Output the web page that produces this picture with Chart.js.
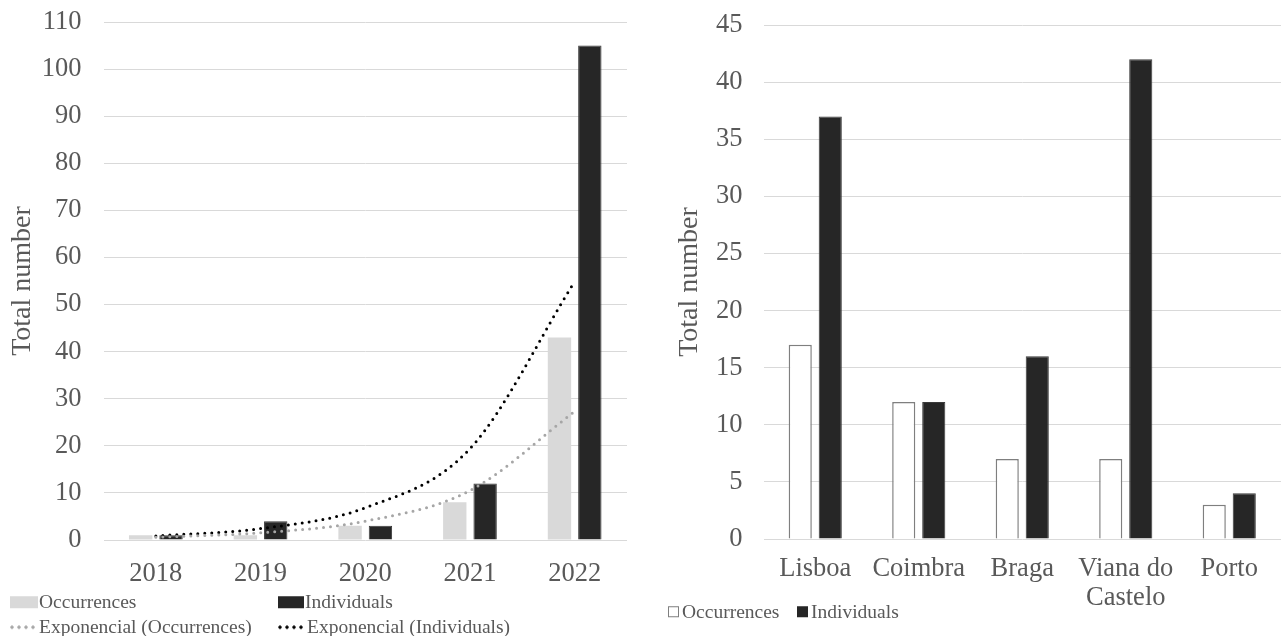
<!DOCTYPE html>
<html>
<head>
<meta charset="utf-8">
<script src="https://cdn.jsdelivr.net/npm/chart.js@4.4.1/dist/chart.umd.min.js"></script>
<style>
  html, body { margin: 0; padding: 0; background: #fff; }
  #wrap { position: relative; width: 1281px; height: 636px; overflow: hidden;
          font-family: "Liberation Serif", "Times New Roman", serif; }
  #yearChart { position: absolute; left: 0; top: 0; }
  #cityChart { position: absolute; left: 640px; top: 0; }
  .legend-item { position: absolute; display: flex; align-items: center; white-space: nowrap;
                 transform: translateY(-50%); font-size: 19.5px; color: #595959; line-height: 1; }
  .legend-item .mark { display: inline-block; flex: none; }
</style>
</head>
<body>
<div id="wrap">
  <canvas id="yearChart" width="640" height="636" style="width:640px;height:636px"></canvas>
  <canvas id="cityChart" width="641" height="636" style="width:641px;height:636px"></canvas>
  <div id="yearLegend"></div>
  <div id="cityLegend"></div>
</div>
<script>
// Records per year
const years = ['2018', '2019', '2020', '2021', '2022'];
const yearOccurrences = [1, 1, 3, 8, 43];
const yearIndividuals = [1, 4, 3, 12, 105];
// Exponential trend values at each year
const trendOccurrences = [0.59, 1.54, 4.0, 10.5, 27.3];
const trendIndividuals = [0.86, 2.42, 6.85, 19.4, 54.9];
const yearAxisMax = 110;
const yearAxisStep = 10;

// Records per district
const cities = ['Lisboa', 'Coimbra', 'Braga', ['Viana do', 'Castelo'], 'Porto'];
const cityOccurrences = [17, 12, 7, 7, 3];
const cityIndividuals = [37, 12, 16, 42, 4];
const cityAxisMax = 45;
const cityAxisStep = 5;

const seriesNames = ['Occurrences', 'Individuals'];
const trendNames = ['Exponencial (Occurrences)', 'Exponencial (Individuals)'];
const axisTitle = 'Total number';

const FONT = '"Liberation Serif", "Times New Roman", serif';
const TEXT = '#595959';
const GRID = '#d9d9d9';
const DARK = '#262626';
const LIGHT = '#d9d9d9';
const TREND_LIGHT = '#a6a6a6';
const TICK_SIZE = 26.5;
const TITLE_SIZE = 28;

Chart.defaults.font.family = FONT;
Chart.defaults.color = TEXT;

function yScale(max, step, width, titlePad, tickPad) {
  return {
    min: 0, max: max,
    ticks: { stepSize: step, padding: tickPad, color: TEXT, font: { size: TICK_SIZE } },
    grid: { color: GRID, lineWidth: 1, drawTicks: false },
    border: { display: false },
    title: { display: true, text: axisTitle, color: TEXT, font: { size: TITLE_SIZE },
             padding: { top: titlePad, bottom: 0 } },
    afterFit(scale) {
      // fixed axis width; the plot top/bottom come from the layout padding only
      scale.width = width;
      scale.paddingTop = 0;
      scale.paddingBottom = 0;
    }
  };
}
function xScale(height, tickPad) {
  return {
    grid: { display: false, drawTicks: false },
    border: { display: false },
    ticks: { padding: tickPad, color: TEXT, font: { size: TICK_SIZE, lineHeight: 1.08 }, maxRotation: 0, autoSkip: false },
    afterFit(scale) { scale.height = height; }
  };
}
const trendStyle = {
  type: 'line', borderWidth: 3, borderDash: [0, 7], borderCapStyle: 'round',
  pointRadius: 0, fill: false, cubicInterpolationMode: 'monotone', order: 0
};

new Chart(document.getElementById('yearChart'), {
  type: 'bar',
  data: {
    labels: years,
    datasets: [
      Object.assign({ label: trendNames[0], data: trendOccurrences, borderColor: TREND_LIGHT }, trendStyle),
      Object.assign({ label: trendNames[1], data: trendIndividuals, borderColor: '#000' }, trendStyle),
      { label: seriesNames[0], data: yearOccurrences, backgroundColor: LIGHT, borderWidth: 0,
        categoryPercentage: 0.58, barPercentage: 0.77, order: 1 },
      { label: seriesNames[1], data: yearIndividuals, backgroundColor: DARK, borderColor: '#3a3a3a', borderWidth: 1,
        categoryPercentage: 0.58, barPercentage: 0.77, order: 1 }
    ]
  },
  options: {
    responsive: false, animation: false,
    layout: { padding: { top: 22, right: 13, bottom: 0, left: 0 } },
    plugins: { legend: { display: false }, tooltip: { enabled: false } },
    scales: { x: xScale(96, 20), y: yScale(yearAxisMax, yearAxisStep, 103.5, 6, 22) }
  }
});

new Chart(document.getElementById('cityChart'), {
  type: 'bar',
  data: {
    labels: cities,
    datasets: [
      { label: seriesNames[0], data: cityOccurrences, backgroundColor: '#fff', borderColor: '#7f7f7f', borderWidth: 1.5,
        categoryPercentage: 0.58, barPercentage: 0.77 },
      { label: seriesNames[1], data: cityIndividuals, backgroundColor: DARK, borderColor: '#3a3a3a', borderWidth: 1,
        categoryPercentage: 0.58, barPercentage: 0.77 }
    ]
  },
  options: {
    responsive: false, animation: false,
    layout: { padding: { top: 25, right: 0, bottom: 0, left: 0 } },
    plugins: { legend: { display: false }, tooltip: { enabled: false } },
    scales: { x: xScale(97, 16), y: yScale(cityAxisMax, cityAxisStep, 123.5, 33, 21) }
  }
});

// Legends
function addLegend(parentId, items) {
  const parent = document.getElementById(parentId);
  items.forEach(it => {
    const el = document.createElement('div');
    el.className = 'legend-item';
    el.style.left = it.x + 'px';
    el.style.top = it.y + 'px';
    const mark = document.createElement('span');
    mark.className = 'mark';
    if (it.kind === 'box') {
      mark.style.width = it.w + 'px';
      mark.style.height = it.h + 'px';
      mark.style.background = it.fill;
      mark.style.boxSizing = 'border-box';
      if (it.stroke) mark.style.border = '1px solid ' + it.stroke;
    } else {
      mark.style.width = '28px';
      mark.style.height = '4px';
      mark.style.background = 'radial-gradient(circle at 2px 2px, ' + it.fill + ' 1.4px, transparent 1.9px) 0 0 / 7px 4px repeat-x';
    }
    mark.style.marginRight = it.gap + 'px';
    el.appendChild(mark);
    const txt = document.createElement('span');
    txt.textContent = it.text;
    el.appendChild(txt);
    parent.appendChild(el);
  });
}
addLegend('yearLegend', [
  { x: 10, y: 602, kind: 'box', w: 28, h: 12, fill: LIGHT, gap: 1, text: seriesNames[0] },
  { x: 278, y: 602, kind: 'box', w: 26, h: 12, fill: DARK, gap: 1, text: seriesNames[1] },
  { x: 10, y: 627, kind: 'dots', fill: TREND_LIGHT, gap: 1, text: trendNames[0] },
  { x: 278, y: 627, kind: 'dots', fill: '#000', gap: 1, text: trendNames[1] }
]);
addLegend('cityLegend', [
  { x: 668, y: 612, kind: 'box', w: 11, h: 11, fill: '#fff', stroke: '#7f7f7f', gap: 3, text: seriesNames[0] },
  { x: 797, y: 612, kind: 'box', w: 11, h: 11, fill: DARK, gap: 3, text: seriesNames[1] }
]);
</script>
</body>
</html>
